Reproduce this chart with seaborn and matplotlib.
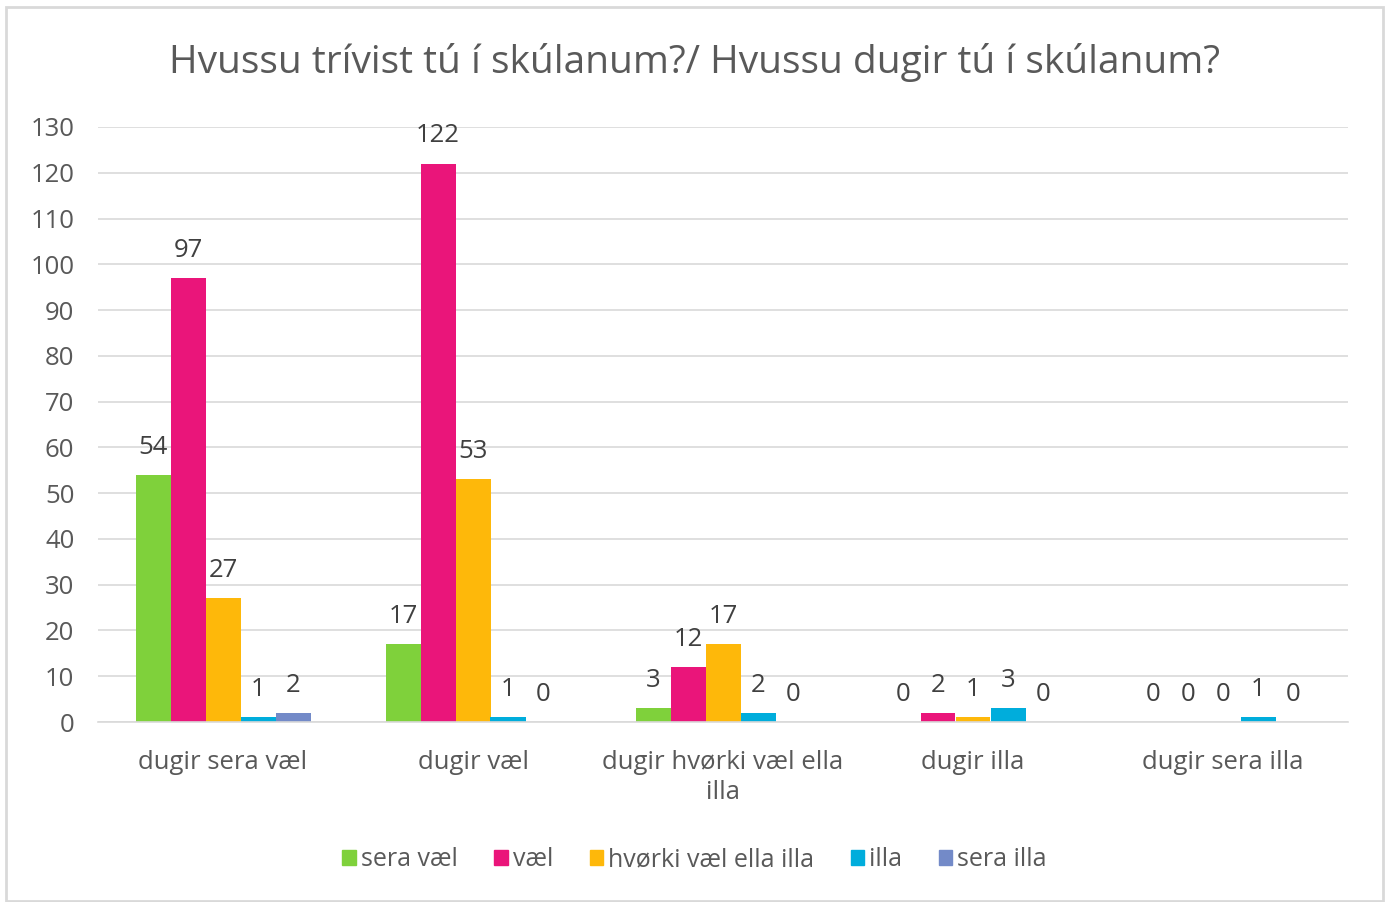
import pandas as pd
import matplotlib.pyplot as plt
import seaborn as sns
from matplotlib.patches import Rectangle, Patch

# data
kategoriir = ["dugir sera væl", "dugir væl", "dugir hvørki væl ella\nilla", "dugir illa", "dugir sera illa"]
seriir = ["sera væl", "væl", "hvørki væl ella illa", "illa", "sera illa"]
sera_vael = [54, 17, 3, 0, 0]
vael = [97, 122, 12, 2, 0]
hvorki = [27, 53, 17, 1, 0]
illa = [1, 1, 2, 3, 1]
sera_illa = [2, 0, 0, 0, 0]
litir = ["#7FD13B", "#EA157A", "#FEB80A", "#00ADDC", "#738AC8"]

virdir = [sera_vael, vael, hvorki, illa, sera_illa]
rows = []
for s, vals in zip(seriir, virdir):
    for k, v in zip(kategoriir, vals):
        rows.append({"kategori": k, "seria": s, "tal": v})
df = pd.DataFrame(rows)

sns.set_theme(style="white")
plt.rcParams['font.family'] = ['Open Sans', 'DejaVu Sans']

fig = plt.figure(figsize=(13.89, 9.02), dpi=100)
ax = fig.add_axes([98/1389, 1-722/902, 1250/1389, 595/902])

sns.barplot(data=df, x="kategori", y="tal", hue="seria", palette=litir,
            width=0.7, saturation=1, ax=ax, legend=False, linewidth=0)

ax.set_ylim(0, 130)
ax.set_xlim(-0.5, 4.5)
ax.set_yticks(range(0, 131, 10))
ax.yaxis.grid(True, color="#d9d9d9", linewidth=1.2)
ax.set_axisbelow(True)
for sp in ["top", "right", "left"]:
    ax.spines[sp].set_visible(False)
ax.spines["bottom"].set_color("#d9d9d9")
ax.spines["bottom"].set_linewidth(1.2)
ax.tick_params(axis="both", length=0, labelsize=18.5, colors="#595959")
ax.tick_params(axis="y", pad=17)
ax.tick_params(axis="x", pad=20)
for t in ax.get_xticklabels():
    t.set_linespacing(1.3)
ax.set_xlabel("")
ax.set_ylabel("")

for c in ax.containers:
    ax.bar_label(c, fontsize=18.5, color="#404040", padding=11)

fig.suptitle("Hvussu trívist tú í skúlanum?/ Hvussu dugir tú í skúlanum?",
             y=1-63/902, va="center", fontsize=28, color="#595959")

handles = [Patch(color=col, label=s) for col, s in zip(litir, seriir)]
fig.legend(handles=handles, loc="center", bbox_to_anchor=(0.5, 1-860/902), ncol=5,
           frameon=False, fontsize=18, handlelength=0.55, handleheight=0.55,
           handletextpad=0.2, columnspacing=1.45, labelcolor="#595959")

fig.patches.append(Rectangle((6/1389, 1/902), 1377/1389, 894/902, transform=fig.transFigure,
                             fill=False, edgecolor="#d9d9d9", linewidth=2))

fig.savefig("out.png", dpi=100)
